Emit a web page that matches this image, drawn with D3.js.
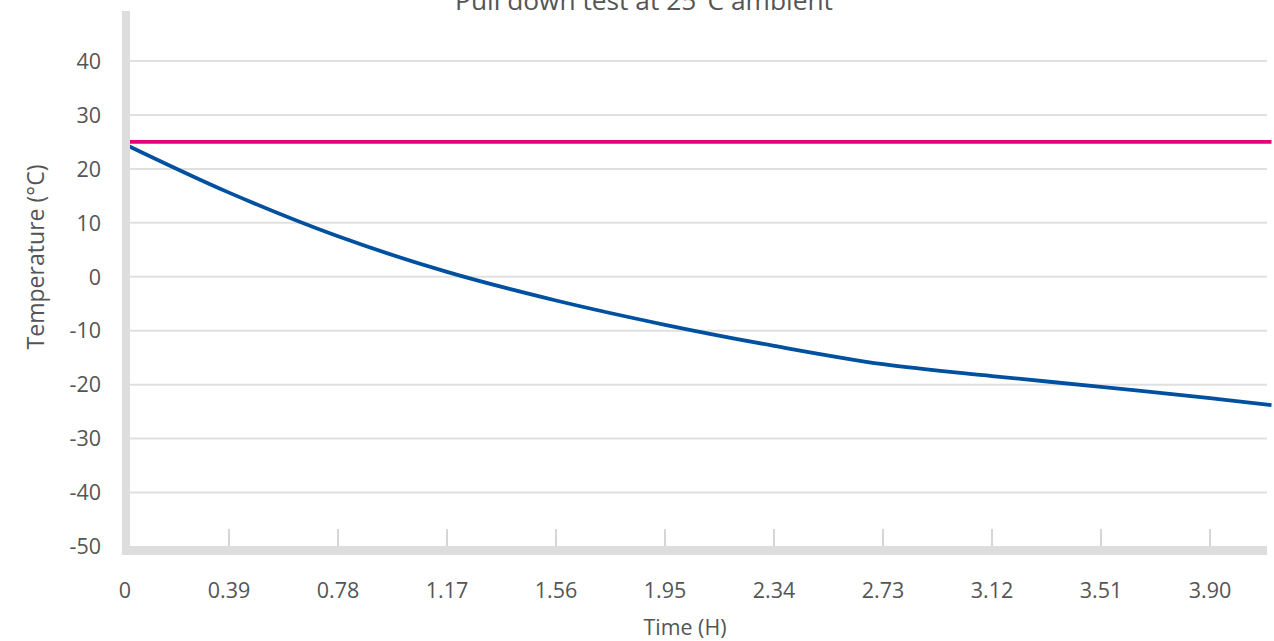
<!DOCTYPE html>
<html>
<head>
<meta charset="utf-8">
<script src="https://cdn.jsdelivr.net/npm/d3@7"></script>
<style>
  html, body { margin: 0; padding: 0; background: #fff; }
  svg text { font-family: "Open Sans", Lato, sans-serif; fill: #555; }
</style>
</head>
<body>
<svg id="chart" width="1274" height="641"></svg>
<script>
// ---- data ----
const chartTitle = "Pull down test at 25°C ambient";
const xTitle = "Time (H)";
const yTitle = "Temperature (°C)";
const xTickValues = [0, 0.39, 0.78, 1.17, 1.56, 1.95, 2.34, 2.73, 3.12, 3.51, 3.90];
const xTickLabels = ["0", "0.39", "0.78", "1.17", "1.56", "1.95", "2.34", "2.73", "3.12", "3.51", "3.90"];
const yTickValues = [-50, -40, -30, -20, -10, 0, 10, 20, 30, 40];
const timeH = [0, 0.39, 0.78, 1.17, 1.56, 1.95, 2.34, 2.73, 3.12, 3.51, 3.90, 4.12];
const cabinetTemp = [25.0, 15.6, 7.5, 0.9, -4.4, -8.9, -12.8, -16.2, -18.4, -20.4, -22.5, -23.8];
const ambientTime = [0, 4.12];
const ambientTemp = [25, 25];

// ---- layout ----
const svg = d3.select("#chart");
const x = d3.scaleLinear().domain([0, 3.90]).range([120, 1210]);
const y = d3.scaleLinear().domain([-50, 40]).range([546.5, 61]);
const plotRight = 1267;
const axisColor = "#dcdddc";

svg.append("defs").append("clipPath").attr("id", "plotclip")
  .append("rect").attr("x", 124).attr("y", 0).attr("width", 1150).attr("height", 641);

// fit a text element's font size to a target width
function fitWidth(sel, target, base) {
  sel.style("font-size", base + "px");
  const w = sel.node().getComputedTextLength();
  sel.style("font-size", (base * target / w).toFixed(2) + "px");
}

// gridlines
svg.append("g")
  .selectAll("line")
  .data(yTickValues.filter(v => v > -50))
  .join("line")
  .attr("x1", 130).attr("x2", plotRight)
  .attr("y1", d => y(d)).attr("y2", d => y(d))
  .attr("stroke", "#e0e0e0").attr("stroke-width", 2);

// x tick marks
svg.append("g")
  .selectAll("line")
  .data(xTickValues.filter(v => v > 0))
  .join("line")
  .attr("x1", d => x(d)).attr("x2", d => x(d))
  .attr("y1", 529).attr("y2", 546)
  .attr("stroke", "#c8c8c8").attr("stroke-width", 1.5);

// lines
const lineGen = d3.line()
  .x(d => x(d[0])).y(d => y(d[1]))
  .curve(d3.curveCatmullRom.alpha(0.5));

const lines = svg.append("g").attr("clip-path", "url(#plotclip)");

lines.append("path")
  .datum(ambientTime.map((t, i) => [t, ambientTemp[i]]))
  .attr("d", lineGen)
  .attr("fill", "none").attr("stroke", "#e6007e").attr("stroke-width", 3.8);

lines.append("path")
  .datum(timeH.map((t, i) => [t, cabinetTemp[i]]))
  .attr("d", lineGen)
  .attr("fill", "none").attr("stroke", "#0050a0").attr("stroke-width", 3.8);

// axis bars (drawn on top)
svg.append("rect").attr("x", 122).attr("y", 11).attr("width", 8).attr("height", 544).attr("fill", axisColor);
svg.append("rect").attr("x", 122).attr("y", 546).attr("width", plotRight - 122).attr("height", 9).attr("fill", axisColor);

// y tick labels
svg.append("g")
  .selectAll("text")
  .data(yTickValues)
  .join("text")
  .attr("x", 101).attr("y", d => y(d))
  .attr("dy", "0.36em")
  .attr("text-anchor", "end")
  .style("font-size", "21.5px")
  .text(d => d);

// x tick labels
svg.append("g")
  .selectAll("text")
  .data(xTickValues)
  .join("text")
  .attr("x", (d, i) => i === 0 ? x(d) + 5 : x(d))
  .attr("y", 590)
  .attr("dy", "0.36em")
  .attr("text-anchor", "middle")
  .style("font-size", "21.5px")
  .text((d, i) => xTickLabels[i]);

// axis titles
const xt = svg.append("text")
  .attr("x", 685).attr("y", 627).attr("dy", "0.36em")
  .attr("text-anchor", "middle")
  .text(xTitle);
fitWidth(xt, 83, 20);

const yt = svg.append("text")
  .attr("transform", "translate(36,257) rotate(-90)")
  .attr("dy", "0.36em")
  .attr("text-anchor", "middle")
  .text(yTitle);
fitWidth(yt, 185, 20);

// title (clipped at top as in original)
const tt = svg.append("text")
  .attr("x", 644).attr("y", 10)
  .attr("text-anchor", "middle")
  .text(chartTitle);
fitWidth(tt, 378, 26);
</script>
</body>
</html>
